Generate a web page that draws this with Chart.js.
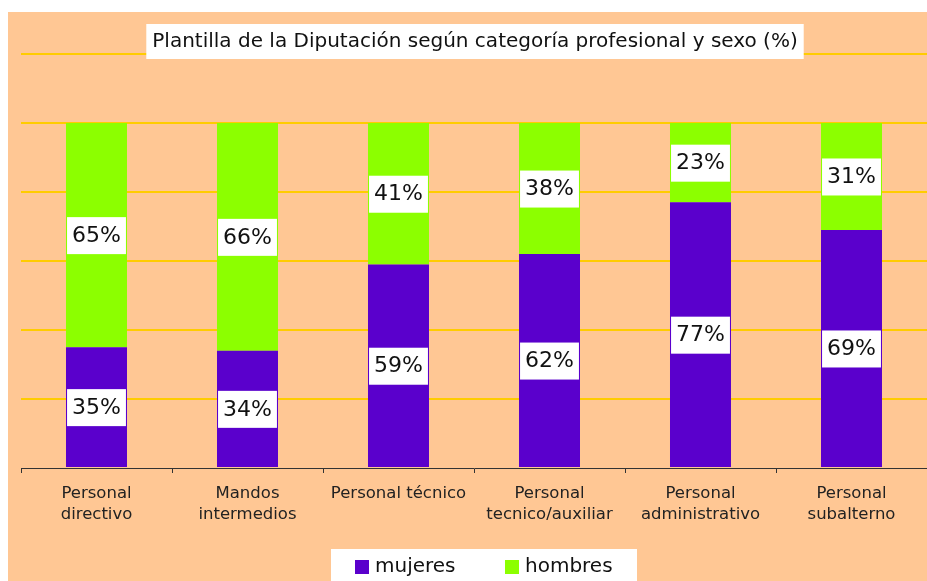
<!DOCTYPE html>
<html>
<head>
<meta charset="utf-8">
<script src="https://cdn.jsdelivr.net/npm/chart.js@4/dist/chart.umd.min.js"></script>
<style>
  body { margin: 0; background: #ffffff; }
  #wrap { width: 927px; height: 581px; }
</style>
</head>
<body>
<div id="wrap"><canvas id="grafico" width="927" height="581"></canvas></div>
<script>
var categorias = [
  ['Personal', 'directivo'],
  ['Mandos', 'intermedios'],
  ['Personal técnico'],
  ['Personal', 'tecnico/auxiliar'],
  ['Personal', 'administrativo'],
  ['Personal', 'subalterno']
];
var mujeres = [35, 34, 59, 62, 77, 69];
var hombres = [65, 66, 41, 38, 23, 31];
var titulo = 'Plantilla de la Diputación según categoría profesional y sexo (%)';

var colorMujeres = '#5A00CC';
var colorHombres = '#8CFF00';
var fondo = '#FFC794';
var fuente = '"DejaVu Sans", Verdana, sans-serif';

// background, title box and legend box
var decorado = {
  id: 'decorado',
  beforeDraw: function (chart) {
    var ctx = chart.ctx;
    ctx.save();
    ctx.fillStyle = fondo;
    ctx.fillRect(8, 12, chart.width - 8, chart.height - 12);
    ctx.restore();
  },
  afterDraw: function (chart) {
    var ctx = chart.ctx;
    ctx.save();
    // title
    ctx.font = '20px ' + fuente;
    var w = ctx.measureText(titulo).width;
    var cx = 475;
    ctx.fillStyle = '#ffffff';
    ctx.fillRect(cx - w / 2 - 6, 24, w + 12, 35);
    ctx.fillStyle = '#111111';
    ctx.textAlign = 'center';
    ctx.textBaseline = 'middle';
    ctx.fillText(titulo, cx, 42);

    // legend
    ctx.fillStyle = '#ffffff';
    ctx.fillRect(331, 549, 306, 40);
    var items = [
      { t: 'mujeres', c: colorMujeres, x: 355 },
      { t: 'hombres', c: colorHombres, x: 505 }
    ];
    ctx.font = '20px ' + fuente;
    ctx.textAlign = 'left';
    items.forEach(function (it) {
      ctx.fillStyle = it.c;
      ctx.fillRect(it.x, 560, 14, 14);
      ctx.fillStyle = '#111111';
      ctx.fillText(it.t, it.x + 20, 567);
    });
    ctx.restore();
  }
};

// white boxes with the percentages
var etiquetas = {
  id: 'etiquetas',
  afterDatasetsDraw: function (chart) {
    var ctx = chart.ctx;
    ctx.save();
    ctx.font = '22px ' + fuente;
    ctx.textAlign = 'center';
    ctx.textBaseline = 'middle';
    chart.data.datasets.forEach(function (ds, i) {
      var meta = chart.getDatasetMeta(i);
      meta.data.forEach(function (bar, j) {
        var txt = ds.data[j] + '%';
        var w = ctx.measureText(txt).width + 10;
        var cy = (bar.y + bar.base) / 2;
        ctx.fillStyle = '#ffffff';
        ctx.fillRect(bar.x - w / 2, cy - 18, w, 37);
        ctx.fillStyle = '#111111';
        ctx.fillText(txt, bar.x, cy + 1);
      });
    });
    ctx.restore();
  }
};

new Chart(document.getElementById('grafico'), {
  type: 'bar',
  data: {
    labels: categorias,
    datasets: [
      { label: 'mujeres', data: mujeres, backgroundColor: colorMujeres },
      { label: 'hombres', data: hombres, backgroundColor: colorHombres }
    ]
  },
  options: {
    responsive: false,
    animation: false,
    devicePixelRatio: 1,
    layout: { padding: { left: 21, right: 0, top: 54, bottom: 0 } },
    datasets: { bar: { barPercentage: 0.404, categoryPercentage: 1 } },
    plugins: {
      legend: { display: false },
      title: { display: false },
      tooltip: { enabled: false }
    },
    scales: {
      x: {
        stacked: true,
        afterFit: function (scale) { scale.height = 113; },
        grid: {
          offset: true,
          drawOnChartArea: false,
          drawTicks: true,
          tickLength: 5,
          color: '#333333'
        },
        border: { display: true, color: '#333333', width: 1 },
        ticks: {
          color: '#222222',
          font: { family: fuente, size: 16.5, lineHeight: 1.3 },
          padding: 10,
          maxRotation: 0,
          autoSkip: false
        }
      },
      y: {
        stacked: true,
        min: 0,
        max: 120,
        afterFit: function (scale) { scale.width = 0; },
        ticks: { display: false, stepSize: 20 },
        border: { display: false },
        grid: {
          drawTicks: false,
          lineWidth: 2,
          color: function (c) { return c.tick.value === 0 ? 'rgba(0,0,0,0)' : '#FFCC00'; }
        }
      }
    }
  },
  plugins: [decorado, etiquetas]
});
</script>
</body>
</html>
